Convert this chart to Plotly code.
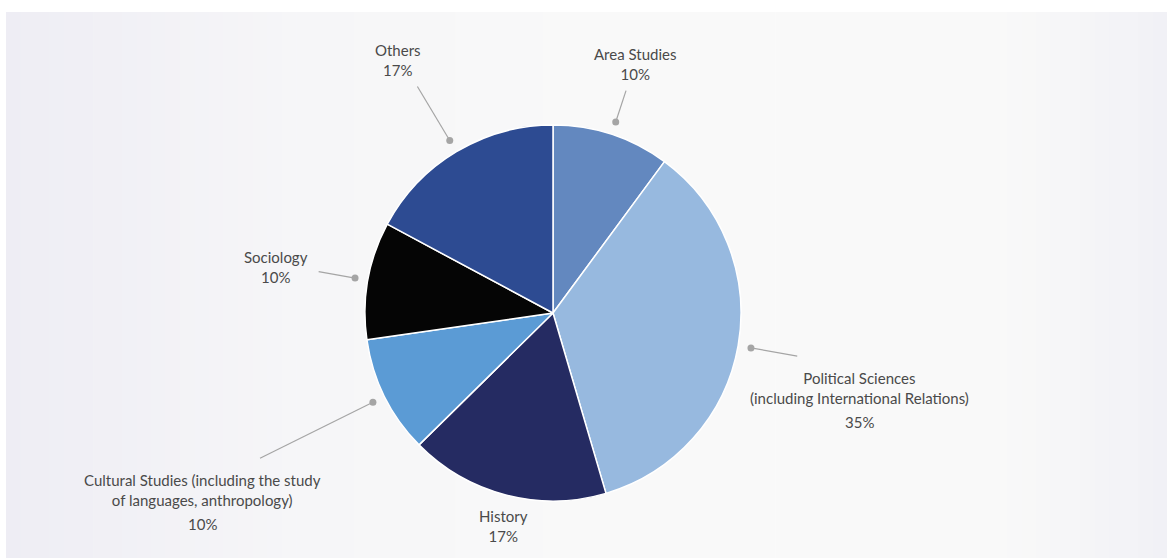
import math
import plotly.graph_objects as go

# Share of publications by field
fields = [
    "Area Studies",
    "Political Sciences<br>(including International Relations)",
    "History",
    "Cultural Studies (including the study<br>of languages, anthropology)",
    "Sociology",
    "Others",
]
shares = [10, 35, 17, 10, 10, 17]
colors = ["#6388BF", "#97B9DF", "#252B62", "#5B9BD5", "#050505", "#2D4B92"]

W, H = 1167, 558
CX, CY, R = 553, 313, 188
FONT = "Lato"
FSIZE = 15
TXT = "#4A4A4A"
LEADER = "#A5A5A5"

# leader layout per slice: (line end radius or None, text dx, dy from line end, anchor, percent on its own line)
leader_cfg = [
    (234, 9, -6, "bottom", False),
    (248, 62, 11, "top", True),
    (None, 0, 0, "top", False),
    (327, -58, 11, "top", True),
    (238, -43, -5, "middle", False),
    (264, -19, -5, "bottom", False),
]

fig = go.Figure()

# soft horizontal gradient panel behind the chart
stops = [(6, (238, 237, 244)), (300, (246, 246, 248)), (600, (249, 249, 249)),
         (1000, (249, 249, 249)), (1167, (241, 241, 246))]


def grad(x):
    for (x0, c0), (x1, c1) in zip(stops[:-1], stops[1:]):
        if x0 <= x <= x1:
            t = (x - x0) / (x1 - x0)
            return tuple(round(a + (b - a) * t) for a, b in zip(c0, c1))
    return stops[-1][1]


n_strips = 80
step = (W - 6) / n_strips
for i in range(n_strips):
    x0 = 6 + i * step
    c = grad(x0 + step / 2)
    fig.add_shape(type="rect", xref="x", yref="y", x0=x0, x1=x0 + step + 0.6, y0=12, y1=H,
                  fillcolor="rgb(%d,%d,%d)" % c, line_width=0, layer="below")

fig.add_trace(go.Pie(
    values=shares,
    labels=[f.replace("<br>", " ") for f in fields],
    marker=dict(colors=colors, line=dict(color="white", width=1.5)),
    sort=False,
    direction="clockwise",
    rotation=0,
    textinfo="none",
    hoverinfo="label+value",
    showlegend=False,
    domain=dict(x=[(CX - R) / W, (CX + R) / W], y=[1 - (CY + R) / H, 1 - (CY - R) / H]),
))

total = sum(shares)
cum = 0
annotations = []
for name, v, cfg in zip(fields, shares, leader_cfg):
    mid = (cum + v / 2) / total * 2 * math.pi
    cum += v
    sx, sy = math.sin(mid), -math.cos(mid)
    r_end, dx, dy, anchor, split = cfg
    if r_end is not None:
        x1, y1 = CX + 201 * sx, CY + 201 * sy
        x2, y2 = CX + r_end * sx, CY + r_end * sy
        fig.add_trace(go.Scatter(x=[x1, x2], y=[y1, y2], mode="lines",
                                 line=dict(color=LEADER, width=1.2),
                                 hoverinfo="skip", showlegend=False))
        fig.add_trace(go.Scatter(x=[x1], y=[y1], mode="markers",
                                 marker=dict(color=LEADER, size=7),
                                 hoverinfo="skip", showlegend=False))
        tx, ty = x2 + dx, y2 + dy
    else:
        tx, ty = CX + 198 * sx, CY + 198 * sy
    pct = f"{v}%"
    font = dict(family=FONT, size=FSIZE, color=TXT)
    if split:
        annotations.append(dict(x=tx, y=ty, xref="x", yref="y", text=name, showarrow=False,
                                xanchor="center", yanchor="top", font=font))
        annotations.append(dict(x=tx, y=ty + 44, xref="x", yref="y", text=pct, showarrow=False,
                                xanchor="center", yanchor="top", font=font))
    else:
        annotations.append(dict(x=tx, y=ty, xref="x", yref="y", text=name + "<br>" + pct,
                                showarrow=False, xanchor="center", yanchor=anchor, font=font))

fig.update_layout(
    width=W, height=H,
    margin=dict(l=0, r=0, t=0, b=0),
    paper_bgcolor="white",
    plot_bgcolor="rgba(0,0,0,0)",
    xaxis=dict(range=[0, W], visible=False, domain=[0, 1], fixedrange=True),
    yaxis=dict(range=[H, 0], visible=False, domain=[0, 1], fixedrange=True),
    annotations=annotations,
    showlegend=False,
)

fig.write_html("out.html", config={"displayModeBar": False})
